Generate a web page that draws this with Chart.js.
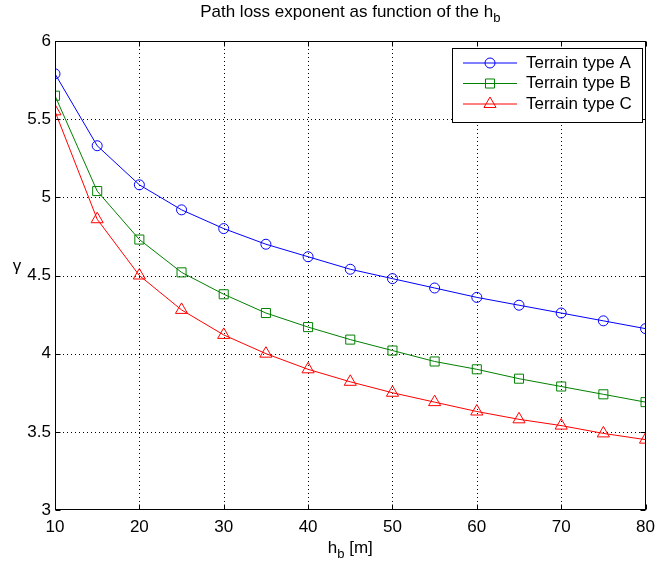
<!DOCTYPE html>
<html>
<head>
<meta charset="utf-8">
<script src="https://cdn.jsdelivr.net/npm/chart.js@4"></script>
<style>
  html, body { margin: 0; padding: 0; background: #fff; }
  canvas { display: block; }
</style>
</head>
<body>
<canvas id="chart" width="662" height="569"></canvas>
<script>
// data
const hb = [10, 15, 20, 25, 30, 35, 40, 45, 50, 55, 60, 65, 70, 75, 80];
const terrainA = [5.79, 5.33, 5.08, 4.92, 4.80, 4.70, 4.62, 4.54, 4.48, 4.42, 4.36, 4.31, 4.26, 4.21, 4.16];
const terrainB = [5.65, 5.04, 4.73, 4.52, 4.38, 4.26, 4.17, 4.09, 4.02, 3.95, 3.90, 3.84, 3.79, 3.74, 3.69];
const terrainC = [5.55, 4.86, 4.50, 4.28, 4.12, 4.00, 3.90, 3.82, 3.75, 3.69, 3.63, 3.58, 3.54, 3.49, 3.45];
const seriesNames = ["Terrain type A", "Terrain type B", "Terrain type C"];
const xTicks = [10, 20, 30, 40, 50, 60, 70, 80];
const yTicks = [3, 3.5, 4, 4.5, 5, 5.5, 6];

const FONT = '"Liberation Sans", Arial, sans-serif';

function toPoints(ys) {
  return hb.map((x, i) => ({ x: x, y: ys[i] }));
}

function mkSet(label, ys, color, style, r) {
  return {
    label: label,
    data: toPoints(ys),
    borderColor: color,
    backgroundColor: color,
    borderWidth: 1,
    pointStyle: style,
    pointRadius: r,
    pointHoverRadius: r,
    pointBorderColor: color,
    pointBackgroundColor: "rgba(0,0,0,0)",
    pointBorderWidth: 1,
    tension: 0
  };
}

// text with subscripts: parts = [[text, isSub], ...]
function drawSub(ctx, parts, cx, y, size) {
  const subSize = Math.round(size * 0.75);
  let total = 0;
  parts.forEach(p => {
    ctx.font = (p[1] ? subSize : size) + "px " + FONT;
    total += ctx.measureText(p[0]).width;
  });
  let x = cx - total / 2;
  ctx.textAlign = "left";
  ctx.textBaseline = "middle";
  parts.forEach(p => {
    ctx.font = (p[1] ? subSize : size) + "px " + FONT;
    ctx.fillText(p[0], x, p[1] ? y + size * 0.4 : y);
    x += ctx.measureText(p[0]).width;
  });
}

const matlabLook = {
  id: "matlabLook",
  beforeDatasetsDraw(chart) {
    const { ctx, chartArea: a, scales } = chart;
    ctx.save();
    ctx.strokeStyle = "#000";
    ctx.lineWidth = 1;
    ctx.setLineDash([1, 3]);
    xTicks.slice(1, -1).forEach(v => {
      const px = Math.round(scales.x.getPixelForValue(v)) + 0.5;
      ctx.beginPath(); ctx.moveTo(px, a.top); ctx.lineTo(px, a.bottom); ctx.stroke();
    });
    yTicks.slice(1, -1).forEach(v => {
      const py = Math.round(scales.y.getPixelForValue(v)) + 0.5;
      ctx.beginPath(); ctx.moveTo(a.left, py); ctx.lineTo(a.right, py); ctx.stroke();
    });
    ctx.restore();
  },
  afterDatasetsDraw(chart) {
    const { ctx, chartArea: a, scales } = chart;
    ctx.save();
    ctx.strokeStyle = "#000";
    ctx.lineWidth = 1;
    ctx.setLineDash([]);
    const L = Math.round(a.left) + 0.5, R = Math.round(a.right) - 0.5;
    const T = Math.round(a.top) + 0.5, B = Math.round(a.bottom) - 0.5;
    ctx.strokeRect(L, T, R - L, B - T);
    // inward ticks
    const tl = 5;
    xTicks.forEach(v => {
      const px = Math.round(scales.x.getPixelForValue(v)) + 0.5;
      ctx.beginPath();
      ctx.moveTo(px, B); ctx.lineTo(px, B - tl);
      ctx.moveTo(px, T); ctx.lineTo(px, T + tl);
      ctx.stroke();
    });
    yTicks.forEach(v => {
      const py = Math.round(scales.y.getPixelForValue(v)) + 0.5;
      ctx.beginPath();
      ctx.moveTo(L, py); ctx.lineTo(L + tl, py);
      ctx.moveTo(R, py); ctx.lineTo(R - tl, py);
      ctx.stroke();
    });

    // legend
    const lx = 452, ly = 48, lw = 190, lh = 74;
    ctx.fillStyle = "#fff";
    ctx.fillRect(lx, ly, lw, lh);
    ctx.strokeRect(lx + 0.5, ly + 0.5, lw, lh);
    chart.data.datasets.forEach((ds, i) => {
      const yy = ly + 15 + i * 20.5;
      ctx.strokeStyle = ds.borderColor;
      ctx.beginPath(); ctx.moveTo(lx + 11, yy); ctx.lineTo(lx + 65, yy); ctx.stroke();
      ctx.fillStyle = "rgba(0,0,0,0)";
      Chart.helpers.drawPoint(ctx, {
        pointStyle: ds.pointStyle, radius: ds.pointRadius, borderWidth: 1, rotation: 0
      }, lx + 38, yy);
      ctx.fillStyle = "#000";
      ctx.font = "17px " + FONT;
      ctx.textAlign = "left";
      ctx.textBaseline = "middle";
      ctx.fillText(ds.label, lx + 74, yy);
    });

    // title and axis labels
    ctx.fillStyle = "#000";
    const cx = (a.left + a.right) / 2;
    drawSub(ctx, [["Path loss exponent as function of the h", false], ["b", true]], cx, 12, 17);
    drawSub(ctx, [["h", false], ["b", true], [" [m]", false]], cx, 548, 17);
    ctx.font = "17px " + FONT;
    ctx.textAlign = "center";
    ctx.textBaseline = "middle";
    ctx.fillText("\u03b3", 17, 266);
    ctx.restore();
  }
};

new Chart(document.getElementById("chart").getContext("2d"), {
  type: "line",
  data: {
    datasets: [
      mkSet(seriesNames[0], terrainA, "#0000ff", "circle", 5),
      mkSet(seriesNames[1], terrainB, "#008000", "rect", 6.4),
      mkSet(seriesNames[2], terrainC, "#ff0000", "triangle", 7)
    ]
  },
  options: {
    responsive: false,
    animation: false,
    layout: { padding: { top: 41, right: 10, left: 0, bottom: 0 } },
    plugins: {
      legend: { display: false },
      title: { display: false },
      tooltip: { enabled: false }
    },
    scales: {
      x: {
        type: "linear",
        min: 10, max: 80,
        afterBuildTicks: s => { s.ticks = xTicks.map(v => ({ value: v })); },
        afterFit: s => { s.height = 59; },
        grid: { display: false, drawTicks: false },
        border: { display: false },
        ticks: { color: "#000", font: { family: FONT, size: 17 }, padding: 7, maxRotation: 0,
                 callback: v => String(v) }
      },
      y: {
        type: "linear",
        min: 3, max: 6,
        afterBuildTicks: s => { s.ticks = yTicks.map(v => ({ value: v })); },
        afterFit: s => { s.width = 55; },
        grid: { display: false, drawTicks: false },
        border: { display: false },
        ticks: { color: "#000", font: { family: FONT, size: 17 }, padding: 4,
                 callback: v => String(v) }
      }
    }
  },
  plugins: [matlabLook]
});
</script>
</body>
</html>
